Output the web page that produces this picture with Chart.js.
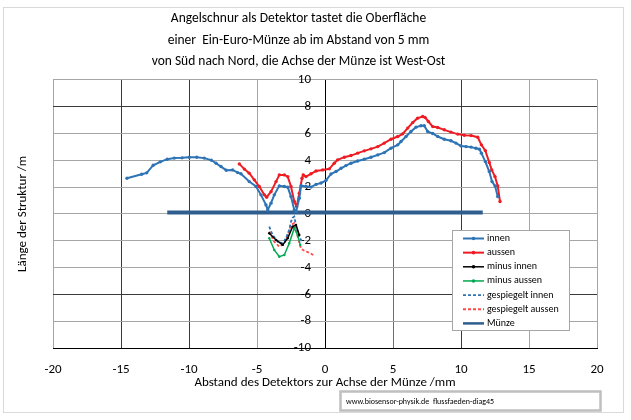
<!DOCTYPE html>
<html><head><meta charset="utf-8">
<script src="https://cdn.jsdelivr.net/npm/chart.js@4.4.1/dist/chart.umd.min.js"></script>
<style>html,body{margin:0;padding:0;background:#fff;}#wrap{position:relative;width:631px;height:420px;}</style>
</head><body><div id="wrap"><canvas id="c" width="631" height="420"></canvas></div>
<script>
// ---------- text ----------
const titleLines = [
  'Angelschnur als Detektor tastet die Oberfläche',
  'einer  Ein-Euro-Münze ab im Abstand von 5 mm',
  'von Süd nach Nord, die Achse der Münze ist West-Ost'
];
const xAxisTitle = 'Abstand des Detektors zur Achse der Münze /mm';
const yAxisTitle = 'Länge der Struktur /m';
const sourceNote = 'www.biosensor-physik.de  flussfaeden-diag45';
const seriesNames = ['innen','aussen','minus innen','minus aussen','gespiegelt innen','gespiegelt aussen','Münze'];
const xTicks = [-20,-15,-10,-5,0,5,10,15,20];
const yTicks = [-10,-8,-6,-4,-2,0,2,4,6,8,10];

// ---------- data ----------
const innenX = [-14.56,-13.48,-13.11,-12.63,-12.11,-11.6,-11.08,-10.51,-9.98,-9.43,-8.88,-8.36,-8.01,-7.65,-7.26,-6.79,-6.42,-6.18,-5.57,-5.07,-4.71,-4.34,-4.21,-3.97,-3.73,-3.36,-2.99,-2.74,-2.5,-2.26,-2.13,-1.89,-1.76,-1.4,-1.03,-0.66,-0.29,0.07,0.44,0.81,1.18,1.54,1.91,2.4,2.89,3.38,3.88,4.36,4.85,5.35,5.59,5.96,6.32,6.69,7.06,7.3,7.55,7.92,8.29,8.77,9.26,9.63,10.0,10.37,10.74,11.1,11.35,11.5,11.79,12.08,12.28,12.5,12.7];
const innenY = [2.66,2.96,3.06,3.63,3.88,4.08,4.16,4.18,4.23,4.23,4.16,4.01,3.78,3.53,3.26,3.28,3.08,2.99,2.41,2.04,1.42,0.67,0.3,0.8,1.42,2.09,2.04,1.99,1.29,0.3,0.17,1.17,2.1,2.05,2.0,2.2,2.3,2.5,2.98,3.16,3.4,3.6,3.78,3.95,4.08,4.23,4.4,4.57,4.9,5.15,5.4,5.77,6.14,6.47,6.57,6.57,6.14,6.0,5.77,5.57,5.45,5.28,5.07,5.02,4.98,4.9,4.83,4.53,3.9,3.16,2.41,2.09,1.29];

const aussenX = [-6.3,-5.93,-5.57,-5.2,-4.83,-4.46,-4.29,-3.97,-3.6,-3.36,-2.99,-2.74,-2.5,-2.26,-2.08,-1.89,-1.69,-1.6,-1.4,-1.03,-0.66,-0.17,0.32,0.68,0.93,1.42,1.91,2.4,2.89,3.38,3.88,4.36,4.85,5.35,5.71,6.08,6.45,6.81,7.18,7.35,7.6,7.92,8.29,8.77,9.26,9.76,10.24,10.74,11.23,11.5,11.79,12.08,12.26,12.5,12.7,12.87];
const aussenY = [3.73,3.34,3.04,2.54,2.04,1.42,1.25,1.66,2.41,2.91,2.91,2.78,2.04,0.92,0.54,1.54,2.66,2.91,2.78,2.99,3.2,3.28,3.36,3.78,4.03,4.23,4.35,4.53,4.7,4.85,5.02,5.28,5.57,5.77,5.97,6.4,6.81,7.14,7.26,7.2,6.89,6.51,6.44,6.27,6.1,5.95,5.87,5.84,5.72,5.15,4.72,3.83,3.28,2.78,2.09,0.92];

const minusInnenX = [-4.1,-3.6,-3.11,-2.74,-2.38,-2.13,-1.89];
const minusInnenY = [-1.44,-1.94,-2.31,-1.81,-0.95,-0.82,-1.57];

const minusAussenX = [-4.1,-3.73,-3.36,-2.99,-2.63,-2.26,-2.01,-1.82];
const minusAussenY = [-1.81,-2.69,-3.19,-3.06,-2.19,-1.07,-1.57,-2.31];

const gespInnenX = [-4.1,-3.85,-3.48,-3.11,-2.87,-2.63,-2.5,-2.38,-2.26,-2.1,-1.9,-1.7];
const gespInnenY = [-0.95,-1.57,-2.07,-2.19,-1.81,-1.19,-0.57,-0.3,-0.2,-1.0,-1.7,-2.05];

const gespAussenX = [-4.1,-3.73,-3.36,-2.99,-2.74,-2.5,-2.26,-2.01,-1.76,-1.52,-1.15,-0.86];
const gespAussenY = [-1.32,-2.07,-2.44,-2.19,-1.57,-0.82,-0.69,-1.69,-2.6,-2.75,-2.9,-3.06];

const muenzeX = [-11.6, 11.6];
const muenzeY = [0.1, 0.1];

// ---------- chart ----------
const FONT = "Calibri, Carlito, Lato, sans-serif";
const pts = (xs, ys) => xs.map((x, i) => ({x: x, y: ys[i]}));

const styles = [
  {c:'#2E74B5', w:2,   r:1.7, dash:[]},
  {c:'#EE1C24', w:2,   r:1.7, dash:[]},
  {c:'#000000', w:1.5, r:1.2, dash:[]},
  {c:'#00A850', w:1.5, r:1.2, dash:[]},
  {c:'#2E74B5', w:1.8, r:0,   dash:[3,2]},
  {c:'#FF4A4A', w:1.8, r:0,   dash:[3,2]},
  {c:'#2F5E8E', w:4,   r:0,   dash:[]}
];
const seriesData = [
  pts(innenX, innenY), pts(aussenX, aussenY), pts(minusInnenX, minusInnenY),
  pts(minusAussenX, minusAussenY), pts(gespInnenX, gespInnenY),
  pts(gespAussenX, gespAussenY), pts(muenzeX, muenzeY)
];
const datasets = seriesNames.map((n, i) => ({
  label: n, data: seriesData[i], showLine: true,
  borderColor: styles[i].c, backgroundColor: styles[i].c,
  borderWidth: styles[i].w, pointRadius: styles[i].r, pointHoverRadius: 0,
  pointBorderWidth: 0, borderDash: styles[i].dash, tension: 0
}));

const darkX = [-15, -10, 10];
const midX = [5];
const darkY = [8, -6];

const decor = {
  id: 'decor',
  beforeDraw(chart) {
    const ctx = chart.ctx;
    ctx.save();
    ctx.fillStyle = '#fff';
    ctx.fillRect(0, 0, chart.width, chart.height);
    ctx.strokeStyle = '#D9D9D9';
    ctx.lineWidth = 1;
    ctx.strokeRect(3.5, 7.5, 620, 405);
    ctx.restore();
  },
  afterDraw(chart) {
    const ctx = chart.ctx;
    ctx.save();
    // legend
    const bx = 452.5, by = 230.5, bw = 117, bh = 100;
    ctx.fillStyle = '#fff'; ctx.fillRect(bx, by, bw, bh);
    ctx.strokeStyle = '#A6A6A6'; ctx.lineWidth = 1; ctx.strokeRect(bx, by, bw, bh);
    chart.data.datasets.forEach((ds, i) => {
      const y = 238.5 + i * 14.15;
      ctx.beginPath();
      ctx.setLineDash(ds.borderDash || []);
      ctx.strokeStyle = ds.borderColor;
      ctx.lineWidth = Math.min(ds.borderWidth, 2.5);
      ctx.moveTo(463, y); ctx.lineTo(484, y); ctx.stroke();
      ctx.setLineDash([]);
      if (ds.pointRadius > 0) {
        ctx.beginPath(); ctx.fillStyle = ds.borderColor;
        ctx.arc(473.5, y, 1.8, 0, Math.PI * 2); ctx.fill();
      }
      ctx.fillStyle = '#000';
      ctx.font = '10px ' + FONT;
      ctx.textBaseline = 'middle'; ctx.textAlign = 'left';
      ctx.fillText(ds.label, 487, y);
    });
    // source note
    ctx.fillStyle = '#fff'; ctx.fillRect(340.5, 391.5, 260, 19);
    ctx.strokeStyle = '#BFBFBF'; ctx.strokeRect(340.5, 391.5, 260, 19);
    ctx.fillStyle = '#000'; ctx.font = '8px ' + FONT;
    ctx.textBaseline = 'middle'; ctx.textAlign = 'left';
    ctx.fillText(sourceNote, 346, 401.5);
    ctx.restore();
  }
};

new Chart(document.getElementById('c'), {
  type: 'scatter',
  data: { datasets: datasets },
  options: {
    responsive: false, animation: false, devicePixelRatio: 1,
    layout: { padding: { left: 0, right: 34, top: 0, bottom: 0 } },
    plugins: {
      legend: { display: false }, tooltip: { enabled: false },
      title: { display: true, text: titleLines, color: '#000',
        font: { family: FONT, size: 13.5, lineHeight: 1.6, weight: 'normal' },
        padding: { top: 8, bottom: 7 } }
    },
    scales: {
      x: { type: 'linear', min: -20, max: 20,
        afterBuildTicks: s => { s.ticks = xTicks.map(v => ({value: v})); },
        afterFit: s => { s.height = 72; },
        grid: { drawTicks: false,
          color: c => c.tick.value === 0 ? '#000' : (darkX.includes(c.tick.value) ? '#3A3A3A' : (midX.includes(c.tick.value) ? '#6E6E6E' : '#A6A6A6')) },
        border: { color: '#000', width: 1 },
        ticks: { color: '#000', padding: 14, maxRotation: 0, autoSkip: false, font: { family: FONT, size: 13 } },
        title: { display: true, text: xAxisTitle, color: '#000', font: { family: FONT, size: 13 }, padding: { top: 0, bottom: 29 } }
      },
      y: { type: 'linear', min: -10, max: 10, position: { x: -1.03 },
        afterBuildTicks: s => { s.ticks = yTicks.map(v => ({value: v})); },
        grid: { drawTicks: false, color: c => darkY.includes(c.tick.value) ? '#3A3A3A' : '#A6A6A6' },
        border: { display: false },
        ticks: { color: '#000', padding: 0, font: { family: FONT, size: 13 } }
      },
      yt: { type: 'linear', position: 'left', min: 0, max: 1, display: true,
        afterFit: s => { s.width = 53; },
        ticks: { display: false }, grid: { display: false, drawTicks: false }, border: { display: false },
        title: { display: true, text: yAxisTitle, color: '#000', font: { family: FONT, size: 13 }, padding: { top: 15, bottom: 0 } }
      }
    }
  },
  plugins: [decor]
});
</script></body></html>
